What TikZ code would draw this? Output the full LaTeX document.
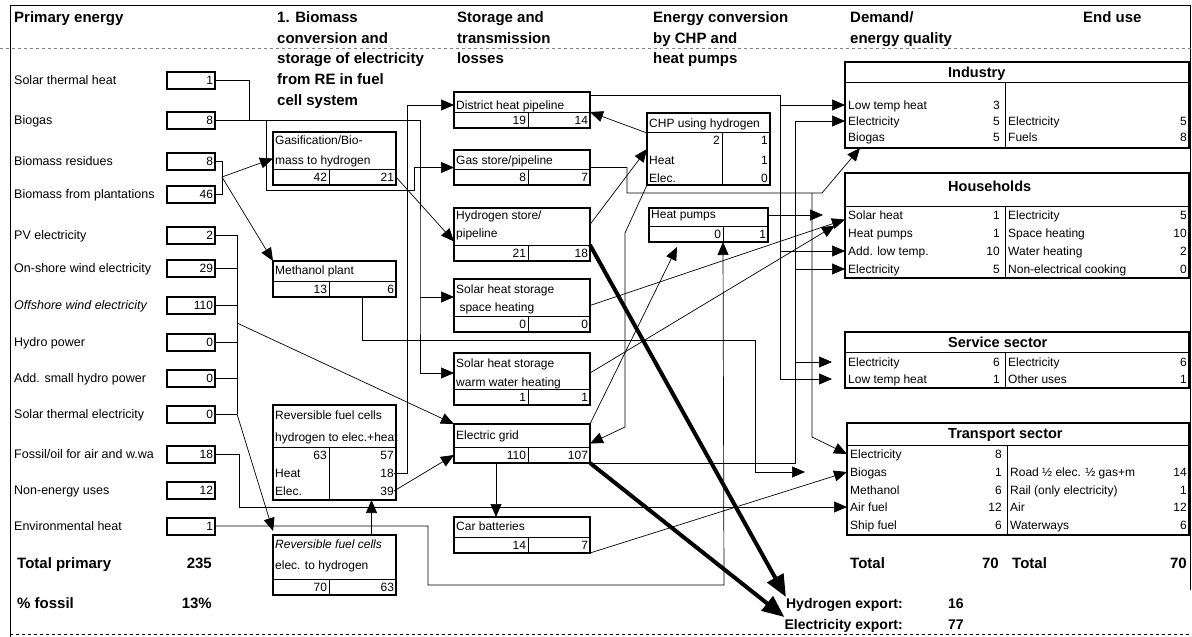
\documentclass[tikz,border=0pt]{standalone}
\usepackage{fontspec}
\setmainfont{Liberation Sans}
\usetikzlibrary{positioning,arrows.meta}

\tikzset{
  head/.style={font=\bfseries\fontsize{15}{20.7}\selectfont, align=left, anchor=north west, inner sep=0pt},
  big/.style={font=\bfseries\fontsize{15}{18}\selectfont, inner sep=0pt, text height=10.7pt, text depth=0pt},
  srctxt/.style={font=\fontsize{12.5}{15}\selectfont, anchor=west, inner sep=0pt, text height=9pt, text depth=0pt},
  vbox/.style={draw, line width=2pt, text width=44pt, align=right, inner xsep=2pt, inner ysep=0pt,
    minimum height=17pt, font=\fontsize{12}{14}\selectfont},
  pbox/.style={draw, line width=2pt, anchor=north west, inner sep=0pt, outer sep=0pt},
  cell/.style={draw, line width=0.8pt, outer sep=0pt, inner xsep=2pt, inner ysep=0pt, align=right,
    text width=#1, minimum height=16pt, anchor=south west, font=\fontsize{12}{14}\selectfont},
  ptxt/.style={font=\fontsize{12}{20}\selectfont, align=left, anchor=north west, inner sep=0pt},
  celltxt/.style={font=\fontsize{12}{14}\selectfont, inner sep=0pt, text height=8.6pt, text depth=0pt},
  sectitle/.style={font=\bfseries\fontsize{14.5}{17}\selectfont, anchor=west, inner sep=0pt, text height=10.4pt, text depth=0pt},
  rowtxt/.style={font=\fontsize{12}{14}\selectfont, anchor=west, inner sep=0pt, text height=8.6pt, text depth=0pt},
  rownum/.style={rowtxt, anchor=east},
  link/.style={line width=0.7pt},
  export/.style={line width=4pt, -{Triangle[length=22pt,width=18pt]}},
}

\begin{document}
\begin{tikzpicture}[x=1pt, y=-1pt, >={Triangle[length=13pt,width=11pt]}]
\useasboundingbox (0,0) rectangle (1192,637);
% frame
\draw[line width=0.8pt] (10,637) -- (10,5) -- (1190,5) -- (1190,590);
\draw[line width=0.8pt, dashed] (10,634) -- (1190,634);
\draw[gray, dashed] (0,48) -- (1192,48);

% column heads
\node[head] (h-primary) at (14,11.5) {Primary energy};
\node[head] (h-biomass) at (277,11.5) {1. Biomass\\conversion and\\storage of electricity\\from RE in fuel\\cell system};
\node[head] (h-storage) at (457,11.5) {Storage and\\transmission\\losses};
\node[head] (h-conv) at (653,11.5) {Energy conversion\\by CHP and\\heat pumps};
\node[head] (h-demand) at (850,11.5) {Demand/\\energy quality};
\node[head] (h-enduse) at (1083,11.5) {End use};

% primary energy
\foreach \n/\t/\v/\y in {
  solarh/Solar thermal heat/1/80, biogas/Biogas/8/120, bres/Biomass residues/8/161,
  bplant/Biomass from plantations/46/194, pv/PV electricity/2/235,
  onwind/On-shore wind electricity/29/268, offwind/\textit{Offshore wind electricity}/110/305,
  hydro/Hydro power/0/342, smhydro/Add. small hydro power/0/378,
  solarel/Solar thermal electricity/0/414, fossil/Fossil{/}oil for air and w.wa/18/454,
  nonen/Non-energy uses/12/490, envheat/Environmental heat/1/526}{
  \node[srctxt] (\n-t) at (14,\y) {\t};
  \node[vbox] (\n) at (191,\y) {\v};
}
\node[big, anchor=west] (totp) at (17,563) {Total primary};
\node[big, anchor=east] (totpv) at (212,563) {235};
\node[big, anchor=west] (fos) at (17,603) {\% fossil};
\node[big, anchor=east] (fosv) at (212,603) {13\%};

% biomass conversion and fuel cells
\node[pbox, minimum width=123pt, minimum height=53pt] (gasif) at (273,132) {};
\node[ptxt] (gasif-t) at (275,135.5) {Gasification/Bio-\\mass to hydrogen};
\node[cell=52pt] (gasifin) at (gasif.south west) {42};
\node[cell=63pt, right=0pt of gasifin] (gasifout) {21};

\node[pbox, minimum width=123pt, minimum height=36pt] (meth) at (273,261) {};
\node[ptxt] (meth-t) at (275,265.5) {Methanol plant};
\node[cell=52pt] (methin) at (meth.south west) {13};
\node[cell=63pt, right=0pt of methin] (methout) {6};

\node[pbox, minimum width=123pt, minimum height=95pt] (rfc1) at (273,405) {};
\node[ptxt] (rfc1-t) at (275,410.5) {Reversible fuel cells\\[2pt]hydrogen to elec.+heat};
\node[cell=52pt, minimum height=53pt] (rfc1l) at (rfc1.south west) {};
\node[cell=63pt, minimum height=53pt, right=0pt of rfc1l] (rfc1r) {};
\node[celltxt, anchor=east] (rfc1-63) at (327,455) {63};
\node[celltxt, anchor=west] (rfc1-heat) at (275,473) {Heat};
\node[celltxt, anchor=west] (rfc1-elec) at (275,491) {Elec.};
\node[celltxt, anchor=east] (rfc1-57) at (394,455) {57};
\node[celltxt, anchor=east] (rfc1-18) at (394,473) {18};
\node[celltxt, anchor=east] (rfc1-39) at (394,491) {39};

\node[pbox, minimum width=123pt, minimum height=60pt] (rfc2) at (273,535) {};
\node[ptxt] (rfc2-t) at (275,539.5) {\textit{Reversible fuel cells}\\[1pt]elec. to hydrogen};
\node[cell=52pt] (rfc2in) at (rfc2.south west) {70};
\node[cell=63pt, right=0pt of rfc2in] (rfc2out) {63};

% storage and transmission
\node[pbox, minimum width=136pt, minimum height=36pt] (dheat) at (454,92) {};
\node[ptxt] (dheat-t) at (456,100.5) {District heat pipeline};
\node[cell=70pt] (dheatin) at (dheat.south west) {19};
\node[cell=58pt, right=0pt of dheatin] (dheatout) {14};

\node[pbox, minimum width=136pt, minimum height=35pt] (gasst) at (454,150) {};
\node[ptxt] (gasst-t) at (456,155.5) {Gas store/pipeline};
\node[cell=70pt] (gasstin) at (gasst.south west) {8};
\node[cell=58pt, right=0pt of gasstin] (gasstout) {7};

\node[pbox, minimum width=136pt, minimum height=53pt] (h2st) at (454,208) {};
\node[ptxt] (h2st-t) at (456,210.5) {Hydrogen store/\\[-2pt]pipeline};
\node[cell=70pt] (h2stin) at (h2st.south west) {21};
\node[cell=58pt, right=0pt of h2stin] (h2stout) {18};

\node[pbox, minimum width=136pt, minimum height=53pt] (ssp) at (454,279) {};
\node[ptxt] (ssp-t) at (456,284.5) {Solar heat storage\\[-2pt]\ space heating};
\node[cell=70pt] (sspin) at (ssp.south west) {0};
\node[cell=58pt, right=0pt of sspin] (sspout) {0};

\node[pbox, minimum width=136pt, minimum height=52pt] (swarm) at (454,353) {};
\node[ptxt] (swarm-t) at (456,358.5) {Solar heat storage\\[-1pt]warm water heating};
\node[cell=70pt] (swarmin) at (swarm.south west) {1};
\node[cell=58pt, right=0pt of swarmin] (swarmout) {1};

\node[pbox, minimum width=136pt, minimum height=39pt] (grid) at (454,424) {};
\node[ptxt] (grid-t) at (456,430.5) {Electric grid};
\node[cell=70pt] (gridin) at (grid.south west) {110};
\node[cell=58pt, right=0pt of gridin] (gridout) {107};

\node[pbox, minimum width=136pt, minimum height=36pt] (carbat) at (454,517) {};
\node[ptxt] (carbat-t) at (456,521.5) {Car batteries};
\node[cell=70pt] (carbatin) at (carbat.south west) {14};
\node[cell=58pt, right=0pt of carbatin] (carbatout) {7};

% CHP and heat pumps
\node[pbox, minimum width=123pt, minimum height=72pt] (chp) at (647,113) {};
\node[ptxt] (chp-t) at (649,118.5) {CHP using hydrogen};
\node[cell=71pt, minimum height=53pt] (chpl) at (chp.south west) {};
\node[cell=44pt, minimum height=53pt, right=0pt of chpl] (chpr) {};
\node[celltxt, anchor=east] (chp-2) at (720,140) {2};
\node[celltxt, anchor=west] (chp-heat) at (649,160) {Heat};
\node[celltxt, anchor=west] (chp-elec) at (649,178) {Elec.};
\node[celltxt, anchor=east] (chp-1a) at (768,140) {1};
\node[celltxt, anchor=east] (chp-1b) at (768,160) {1};
\node[celltxt, anchor=east] (chp-0) at (768,178) {0};

\node[pbox, minimum width=119pt, minimum height=34pt] (hpump) at (649,208) {};
\node[ptxt] (hpump-t) at (651,210.5) {Heat pumps};
\node[cell=70pt] (hpumpin) at (hpump.south west) {0};
\node[cell=41pt, right=0pt of hpumpin] (hpumpout) {1};

% demand sectors
\node[pbox, minimum width=344pt, minimum height=86pt] (ind) at (845,62) {};
\node[cell=156pt, minimum height=66pt] (indl) at (ind.south west) {};
\node[cell=180pt, minimum height=66pt, right=0pt of indl] (indr) {};
\node[sectitle] (ind-t) at (948,72) {Industry};
\foreach \t/\v/\y [count=\i] in {Low temp heat/3/105, Electricity/5/121, Biogas/5/137}{
  \node[rowtxt] (ind-l\i) at (848,\y) {\t};
  \node[rownum] (ind-v\i) at (1000,\y) {\v};}
\foreach \t/\v/\y [count=\i] in {Electricity/5/121, Fuels/8/137}{
  \node[rowtxt] (ind-r\i) at (1008,\y) {\t};
  \node[rownum] (ind-w\i) at (1187,\y) {\v};}

\node[pbox, minimum width=344pt, minimum height=105pt] (hh) at (845,173) {};
\node[cell=156pt, minimum height=72pt] (hhl) at (hh.south west) {};
\node[cell=180pt, minimum height=72pt, right=0pt of hhl] (hhr) {};
\node[sectitle] (hh-t) at (948,186) {Households};
\foreach \t/\v/\y [count=\i] in {Solar heat/1/215, Heat pumps/1/233, Add. low temp./10/251, Electricity/5/269}{
  \node[rowtxt] (hh-l\i) at (848,\y) {\t};
  \node[rownum] (hh-v\i) at (1000,\y) {\v};}
\foreach \t/\v/\y [count=\i] in {Electricity/5/215, Space heating/10/233, Water heating/2/251, Non-electrical cooking/0/269}{
  \node[rowtxt] (hh-r\i) at (1008,\y) {\t};
  \node[rownum] (hh-w\i) at (1187,\y) {\v};}

\node[pbox, minimum width=344pt, minimum height=56pt] (sv) at (845,332) {};
\node[cell=156pt, minimum height=36pt] (svl) at (sv.south west) {};
\node[cell=180pt, minimum height=36pt, right=0pt of svl] (svr) {};
\node[sectitle] (sv-t) at (948,342) {Service sector};
\foreach \t/\v/\y [count=\i] in {Electricity/6/362, Low temp heat/1/379}{
  \node[rowtxt] (sv-l\i) at (848,\y) {\t};
  \node[rownum] (sv-v\i) at (1000,\y) {\v};}
\foreach \t/\v/\y [count=\i] in {Electricity/6/362, Other uses/1/379}{
  \node[rowtxt] (sv-r\i) at (1008,\y) {\t};
  \node[rownum] (sv-w\i) at (1187,\y) {\v};}

\node[pbox, minimum width=342pt, minimum height=112pt] (trans) at (847,423) {};
\node[cell=156pt, minimum height=90pt] (transl) at (trans.south west) {};
\node[cell=178pt, minimum height=90pt, right=0pt of transl] (transr) {};
\node[sectitle] (tr-t) at (948,433) {Transport sector};
\foreach \t/\v/\y [count=\i] in {Electricity/8/454, Biogas/1/472, Methanol/6/490, Air fuel/12/507, Ship fuel/6/525}{
  \node[rowtxt] (tr-l\i) at (850,\y) {\t};
  \node[rownum] (tr-v\i) at (1002,\y) {\v};}
\foreach \t/\v/\y [count=\i] in {Road ½ elec. ½ gas+m/14/472, Rail (only electricity)/1/490, Air/12/507, Waterways/6/525}{
  \node[rowtxt] (tr-r\i) at (1010,\y) {\t};
  \node[rownum] (tr-w\i) at (1187,\y) {\v};}

\node[big, anchor=west] (dtot) at (850,563) {Total};
\node[big, anchor=east] (dtotv) at (999,563) {70};
\node[big, anchor=west] (etot) at (1012,563) {Total};
\node[big, anchor=east] (etotv) at (1187,563) {70};
\node[big, font=\bfseries\fontsize{14}{16}\selectfont, anchor=east] (h2exp) at (903,603) {Hydrogen export:};
\node[big, font=\bfseries\fontsize{14}{16}\selectfont, anchor=west] (h2expv) at (948,603) {16};
\node[big, font=\bfseries\fontsize{14}{16}\selectfont, anchor=east] (elexp) at (903,624) {Electricity export:};
\node[big, font=\bfseries\fontsize{14}{16}\selectfont, anchor=west] (elexpv) at (948,624) {77};

% connectors
\coordinate (sheat) at (420,297);
\draw[link, ->] (solarh.east) -| ++(33,40) -| (sheat) |- ([yshift=6pt]swarm.west);
\draw[link, ->] (sheat) -- (sheat -| ssp.west);
\draw[link, ->] (biogas.east) -| ++(50,70) -| ++(148,-22.5) -- (gasst.west);
\coordinate (bmj) at (222,177);
\draw[link] (bres.east) -| (bmj) (bplant.east) -| (bmj);
\draw[link, ->] (bmj) -- (gasif.west);
\draw[link, ->] (bmj) -- (meth.north west);
\draw[link, ->] (gasifout.east) -- ([yshift=-7pt]h2st.west);

\coordinate (ebus) at (237,0);
\foreach \s in {pv,onwind,offwind,hydro,smhydro,solarel}
  \draw[link] (\s.east) -- (\s.east -| ebus);
\draw[link] (pv.east -| ebus) -- (solarel.east -| ebus);
\coordinate (ebusm) at (237,323);
\draw[link, ->] (ebusm) -- (grid.north west);
\draw[link, ->] (solarel.east -| ebus) -- ([yshift=4pt]rfc2.north west);

\draw[link, ->] (fossil.east) -| ++(23,53) -- (trans.west |- tr-l4);
\draw[link, ->] (envheat.east) -- ++(212,0) |- ++(296,59) -- (hpumpin.south east);
\draw[link, ->] ([xshift=37pt]rfc2.north) -- ([xshift=37pt]rfc1.south);
\coordinate (dhbus) at (407,105);
\draw[link, ->] (rfc1-18.east) -| (dhbus) -- (dhbus -| dheat.west);
\draw[link, ->] (rfc1-39.east) -- (gridin.west);
\draw[link, ->] ([xshift=5pt]gridin.south) -- ([xshift=5pt]gridin.south |- carbat.north);
\draw[link, ->] (carbat.south east) -- (trans.west |- tr-l2);

\draw[link, ->] ([yshift=10pt]h2st.east) -- (chp.west);
\draw[link, ->] ([yshift=16pt]chp.west) -- (dheatout.north east);
\draw[link, ->] (chp.south west) -- ++(-22,48) -- ++(0,194) -- (grid.east);
\draw[link, ->] (grid.north east) -- ([xshift=28pt,yshift=-5pt]hpump.south west);
\coordinate (hpin) at (823,215);
\draw[link, ->] (hpin -| hpump.east) -- (hpin);
\draw[link, ->] (ssp.east) -- ([yshift=6pt]hh.west);
\draw[link, ->] ([yshift=6pt]swarm.east) -- ([xshift=-10pt]hh.west);

\coordinate (gasbend) at (627,193);
\coordinate (gasj) at (822,193);
\draw[link, ->] (gasst.east) -| (gasbend) -- (gasj) -- ([xshift=15pt]ind.south west);
\coordinate (trj) at (812,193);
\draw[link, ->] (trj) -- ++(0,244) -- (trans.west |- tr-l1);

\coordinate (svin) at (832,0);
\coordinate (hbus) at (780,95);
\draw[link] ([yshift=-3pt]dheat.north east) -- (hbus) -- (hbus |- sv-l2);
\draw[link, ->] (hbus |- ind-l1) -- (ind.west |- ind-l1);
\draw[link, ->] (hbus |- hh-l3) -- (hh.west |- hh-l3);
\draw[link, ->] (hbus |- sv-l2) -- (svin |- sv-l2);
\coordinate (elbus) at (795,0);
\draw[link] (gridout.south east) -| (elbus |- ind-l2);
\draw[link, ->] (elbus |- ind-l2) -- (ind.west |- ind-l2);
\draw[link, ->] (elbus |- hh-l4) -- (hh.west |- hh-l4);
\draw[link, ->] (elbus |- sv-l1) -- (svin |- sv-l1);

\coordinate (methj) at (755,340);
\coordinate (methend) at (805,472);
\draw[link, ->] (methout.south) |- (methj) |- (methend);

\draw[export] (h2stout.north east) -- ([yshift=6pt]h2exp.west);
\draw[export] (grid.south east) -- ([yshift=7pt]elexp.west);
\end{tikzpicture}
\end{document}
